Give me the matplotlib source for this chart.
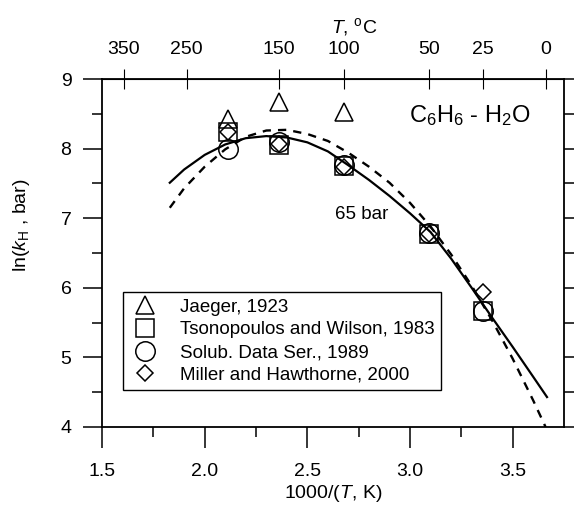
import numpy as np
import matplotlib.pyplot as plt

plt.rcParams['font.family'] = ['Liberation Sans', 'DejaVu Sans']
plt.rcParams['mathtext.fontset'] = 'custom'
plt.rcParams['mathtext.rm'] = 'Liberation Sans'
plt.rcParams['mathtext.it'] = 'Liberation Sans:italic'

# experimental data, temperature in deg C and ln(kH, bar)
jaeger_t = [200, 150, 100]
jaeger_ln = [8.43, 8.67, 8.52]
tsono_t = [200, 150, 100, 50, 25]
tsono_ln = [8.24, 8.05, 7.75, 6.78, 5.66]
solub_t = [200, 150, 100, 50, 25]
solub_ln = [7.99, 8.10, 7.76, 6.79, 5.66]
miller_t = [200, 150, 100, 50, 25]
miller_ln = [8.24, 8.06, 7.74, 6.78, 5.94]

# model curves, x = 1000/(T, K)
solid_x = [1.83, 1.90, 2.00, 2.10, 2.20, 2.30, 2.40, 2.50, 2.60, 2.70, 2.80,
           2.90, 3.00, 3.10, 3.20, 3.30, 3.40, 3.50, 3.60, 3.667]
solid_y = [7.51, 7.70, 7.91, 8.06, 8.15, 8.18, 8.16, 8.09, 7.96, 7.76, 7.55,
           7.32, 7.07, 6.80, 6.42, 6.00, 5.57, 5.15, 4.72, 4.43]
dash_x = [1.83, 1.90, 2.00, 2.10, 2.20, 2.30, 2.40, 2.50, 2.60, 2.70, 2.80,
          2.90, 3.00, 3.10, 3.20, 3.30, 3.40, 3.50, 3.60, 3.66]
dash_y = [7.15, 7.43, 7.74, 7.99, 8.17, 8.26, 8.27, 8.21, 8.11, 7.94, 7.74,
          7.51, 7.22, 6.88, 6.48, 6.03, 5.53, 4.98, 4.38, 4.00]

top_ticks_c = [350, 250, 150, 100, 50, 25, 0]


def inv_t(t_c):
    return 1000.0 / (np.asarray(t_c, dtype=float) + 273.15)


fig = plt.figure(figsize=(5.83, 5.05), dpi=100)
ax = fig.add_axes([0.175, 0.1545, 0.7925, 0.689])

ax.plot(solid_x, solid_y, color='black', lw=1.6)
ax.plot(dash_x, dash_y, color='black', lw=1.7, dashes=(3.5, 3))

mk = dict(ls='none', color='black', mfc='none', mew=1.1)
ax.plot(inv_t(jaeger_t), jaeger_ln, marker='^', ms=13, label='Jaeger, 1923', **mk)
ax.plot(inv_t(tsono_t), tsono_ln, marker='s', ms=12.5,
        label='Tsonopoulos and Wilson, 1983', **mk)
ax.plot(inv_t(solub_t), solub_ln, marker='o', ms=14,
        label='Solub. Data Ser., 1989', **mk)
ax.plot(inv_t(miller_t), miller_ln, marker='D', ms=8,
        label='Miller and Hawthorne, 2000', **mk)

ax.set_xlim(1.5, 3.75)
ax.set_ylim(4, 9)
ax.set_xticks([1.5, 2.0, 2.5, 3.0, 3.5])
ax.set_xticks([1.75, 2.25, 2.75, 3.25], minor=True)
ax.set_yticks([4, 5, 6, 7, 8, 9])
ax.set_yticks([4.5, 5.5, 6.5, 7.5, 8.5], minor=True)
ax.tick_params(axis='both', which='major', direction='out', length=15,
               width=1.1, labelsize=14, pad=8)
ax.tick_params(axis='x', which='major', pad=11)
ax.tick_params(axis='both', which='minor', direction='out', length=7, width=1.1)
ax.tick_params(axis='y', right=True, which='both')
ax.tick_params(axis='y', which='major', length=14)
for sp in ax.spines.values():
    sp.set_linewidth(1.3)

# right-hand ticks are short
for t in ax.yaxis.get_major_ticks() + ax.yaxis.get_minor_ticks():
    t.tick2line.set_markersize(7)

ax.set_xlabel(r'1000/($T$, K)', fontsize=14)
ax.xaxis.set_label_coords(0.5, -0.16)
ax.set_ylabel(r'ln($k_{\mathrm{H}}$ , bar)', fontsize=14)
ax.yaxis.set_label_coords(-0.152, 0.58)

sec = ax.secondary_xaxis('top', functions=(lambda x: 1000.0 / x - 273.15,
                                           lambda t: 1000.0 / (t + 273.15)))
sec.set_xticks(top_ticks_c)
sec.set_xticklabels([str(t) for t in top_ticks_c])
sec.tick_params(direction='inout', length=14, width=0.8, labelsize=14, pad=8)
ax.text(0.545, 1.15, r'$T$, $^{\mathrm{o}}$C', fontsize=14,
        ha='center', va='center', transform=ax.transAxes)

ax.text(2.995, 8.47, r'C$_6$H$_6$ - H$_2$O', fontsize=17, ha='left', va='center')
ax.text(2.635, 7.05, '65 bar', fontsize=13.5, ha='left', va='center')

leg = ax.legend(loc='upper left', bbox_to_anchor=(0.045, 0.388),
                borderaxespad=0, fontsize=13.5, frameon=True, fancybox=False,
                edgecolor='black', framealpha=1, handlelength=1.7,
                handletextpad=1.0, labelspacing=0.3, borderpad=0.35)
leg.get_frame().set_linewidth(1.0)

fig.savefig('out.png', dpi=100)
